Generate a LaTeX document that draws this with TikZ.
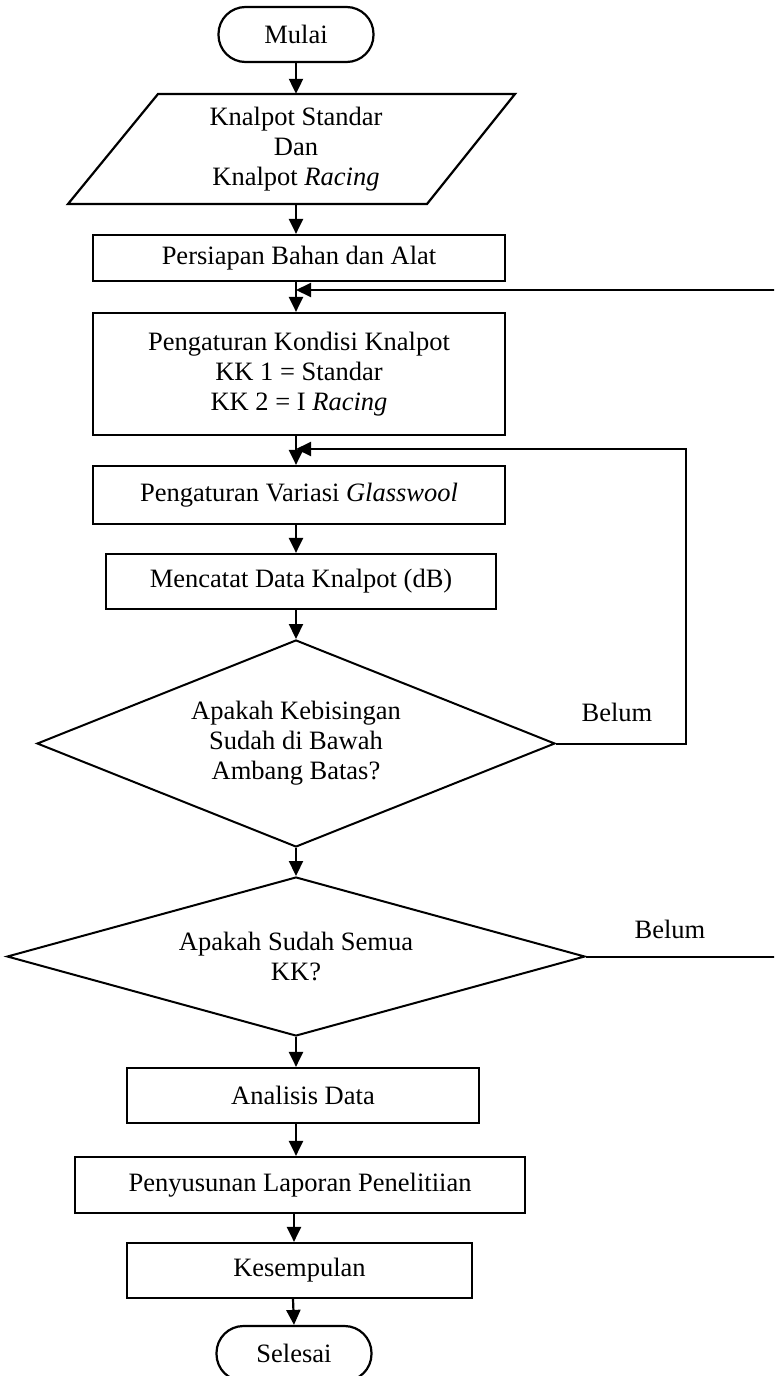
\documentclass[tikz,border=0pt]{standalone}
\usepackage{fontspec}
\setmainfont{Liberation Serif}
\usetikzlibrary{arrows.meta,shapes.geometric}
\begin{document}
\begin{tikzpicture}[x=1pt,y=-1pt,
  every node/.style={font=\fontsize{26.5}{30}\selectfont, align=center, inner sep=0pt},
  procbox/.style={draw, line width=2.2pt, rectangle},
  term/.style={draw, line width=2.2pt, rectangle, rounded corners=27pt, minimum width=155pt, minimum height=55pt},
  decision/.style={draw, line width=2pt, diamond},
  flow/.style={line width=2.2pt, -{Triangle[width=14pt,length=15pt]}},
  back/.style={line width=2pt, -{Triangle[width=14pt,length=15pt]}},
  lbl/.style={}
]
\useasboundingbox (0,0) rectangle (774,1376);
\clip (0,0) rectangle (774,1376);

\node[term] (mulai) at (296,34.5) {Mulai};
\node[minimum width=447pt, minimum height=110pt] (input) at (296,149) {Knalpot Standar\\Dan\\Knalpot \textit{Racing}};
\draw[line width=2.2pt] ([shift={(-138,-55)}]input.center) -- ([shift={(219,-55)}]input.center) -- ([shift={(131,55)}]input.center) -- ([shift={(-228,55)}]input.center) -- cycle;
\node[procbox, minimum width=412pt, minimum height=46pt] (persiapan) at (299,258) {Persiapan Bahan dan Alat};
\node[procbox, minimum width=412pt, minimum height=122pt] (kondisi) at (299,374) {Pengaturan Kondisi Knalpot\\KK 1 = Standar\\KK 2 = I \textit{Racing}};
\node[procbox, minimum width=412pt, minimum height=58pt] (glass) at (299,495) {Pengaturan Variasi \textit{Glasswool}};
\node[procbox, minimum width=390pt, minimum height=55pt] (catat) at (301,581.5) {Mencatat Data Knalpot (dB)};
\node[decision, minimum width=518pt, minimum height=207pt, aspect=2.5] (d1) at (296,743.5) {Apakah Kebisingan\\Sudah di Bawah\\Ambang Batas?};
\node[decision, minimum width=578pt, minimum height=159pt, aspect=3.6] (d2) at (296,956.5) {Apakah Sudah Semua\\KK?};
\node[procbox, minimum width=352pt, minimum height=55pt] (analisis) at (303,1095.5) {Analisis Data};
\node[procbox, minimum width=450pt, minimum height=56pt] (susun) at (300,1185) {Penyusunan Laporan Penelitiian};
\node[procbox, minimum width=345pt, minimum height=55pt] (simpul) at (299.5,1270.5) {Kesempulan};
\node[term] (selesai) at (294,1353.5) {Selesai};

\node[lbl] (belum1) at (617,712) {Belum};
\node[lbl] (belum2) at (670,929) {Belum};

\draw[flow] (mulai.south) -- (mulai.south |- input.north);
\draw[flow] (input.south) -- (input.south |- persiapan.north);
\draw[flow] (input.south |- persiapan.south) -- (input.south |- kondisi.north);
\draw[flow] (input.south |- kondisi.south) -- (input.south |- glass.north);
\draw[flow] (input.south |- glass.south) -- (input.south |- catat.north);
\draw[flow] (input.south |- catat.south) -- (d1.north);
\draw[flow] (d1.south) -- (d2.north);
\draw[flow] (d2.south) -- (d2.south |- analisis.north);
\draw[flow] (d2.south |- analisis.south) -- (d2.south |- susun.north);
\draw[flow] ([xshift=-2pt]d2.south |- susun.south) -- ([xshift=-2pt]d2.south |- simpul.north);
\draw[flow] ([xshift=-3pt]d2.south |- simpul.south) -- (selesai.north);

\coordinate (fb1) at (686,449);
\coordinate (fb2) at (800,290);
\draw[back] (d1.east) -| (fb1) -- (d1.north |- fb1);
\draw[back] (d2.east) -| (fb2) -- (d1.north |- fb2);
\end{tikzpicture}
\end{document}
